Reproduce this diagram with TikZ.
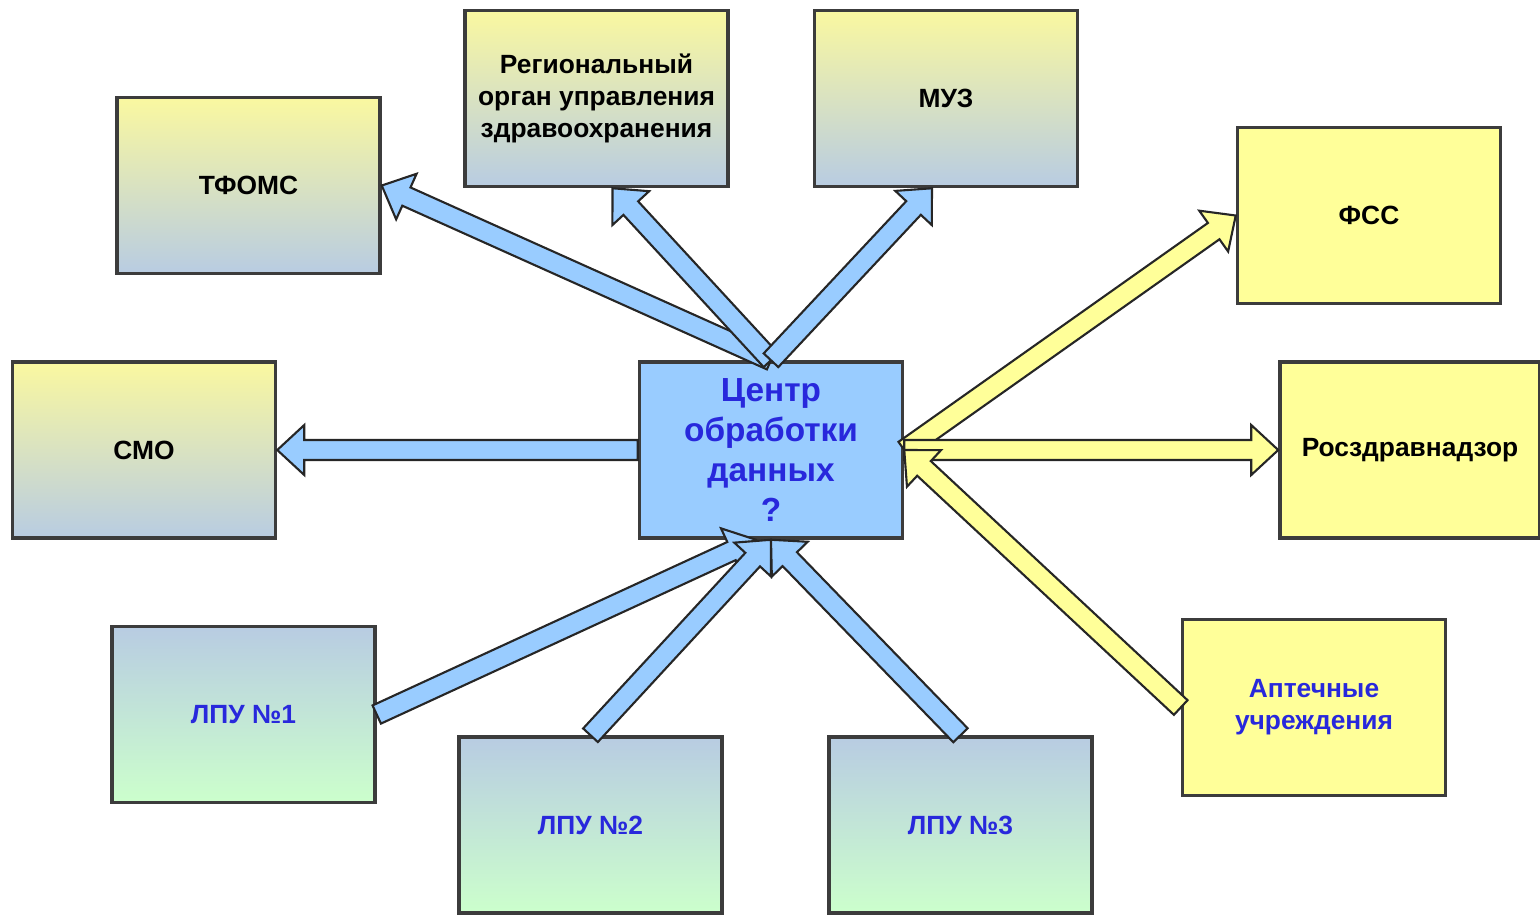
\documentclass[tikz,border=0pt]{standalone}
\usepackage{fontspec}
\setmainfont{Liberation Sans}
\usetikzlibrary{calc}

\definecolor{topyellow}{RGB}{250,248,160}
\definecolor{boxyellow}{RGB}{255,255,153}
\definecolor{greyblue}{RGB}{184,204,226}
\definecolor{palegreen}{RGB}{204,255,204}
\definecolor{centreblue}{RGB}{153,204,255}
\definecolor{textblue}{RGB}{40,40,220}
\definecolor{edgegrey}{RGB}{60,60,60}

% fat hollow arrow: from, to, fill colour
\newcommand{\fatarrow}[3]{%
  \coordinate (h) at ($(#2)!0.27cm!(#1)$);
  \filldraw[fill=#3,draw=black!85,line width=0.6pt,line join=miter]
    ($(#1)!0.1cm!90:(#2)$) -- ($(h)!0.1cm!90:(#2)$) -- ($(h)!0.25cm!90:(#2)$)
    -- (#2) -- ($(h)!0.25cm!-90:(#2)$) -- ($(h)!0.1cm!-90:(#2)$)
    -- ($(#1)!0.1cm!-90:(#2)$) -- cycle;}

\begin{document}
\begin{tikzpicture}[
    box/.style={draw=edgegrey,line width=1pt,minimum width=2.63cm,minimum height=1.76cm,
      inner sep=0pt,align=center,font=\fontsize{7.5}{9.1}\selectfont\bfseries},
    upper/.style={box,top color=topyellow,bottom color=greyblue},
    lower/.style={box,top color=greyblue,bottom color=palegreen,text=textblue},
    plain/.style={box,fill=boxyellow}]
  \useasboundingbox (0,0) rectangle (15.4,-9.14);

  \node[upper] (tfoms) at (2.485,-1.855) {ТФОМС};
  \node[upper] (reg) at (5.965,-0.985) {Региональный\\орган управления\\здравоохранения};
  \node[upper] (muz) at (9.46,-0.985) {МУЗ};
  \node[upper] (smo) at (1.44,-4.5) {СМО};
  \node[box,fill=centreblue,text=textblue,font=\fontsize{9.5}{11.4}\selectfont\bfseries]
    (centre) at (7.71,-4.5) {Центр\\обработки\\данных\\?};
  \node[plain] (fss) at (13.69,-2.155) {ФСС};
  \node[plain,minimum width=2.6cm] (ros) at (14.10,-4.5) {Росздравнадзор};
  \node[plain,text=textblue] (apt) at (13.14,-7.075) {Аптечные\\учреждения};
  \node[lower] (lpu1) at (2.435,-7.145) {ЛПУ №1};
  \node[lower] (lpu2) at (5.905,-8.25) {ЛПУ №2};
  \node[lower] (lpu3) at (9.605,-8.25) {ЛПУ №3};

  \coordinate (regin) at ($(reg.south)+(0.16,0)$);
  \coordinate (muzin) at ($(muz.south)+(-0.14,0)$);
  \coordinate (lpuin) at ($(centre.south)+(-0.15,0)$);

  \fatarrow{centre.north}{tfoms.east}{centreblue}
  \fatarrow{centre.north}{regin}{centreblue}
  \fatarrow{centre.north}{muzin}{centreblue}
  \fatarrow{centre.west}{smo.east}{centreblue}
  \fatarrow{lpu1.east}{lpuin}{centreblue}
  \fatarrow{lpu2.north}{centre.south}{centreblue}
  \fatarrow{lpu3.north}{centre.south}{centreblue}
  \fatarrow{centre.east}{fss.west}{boxyellow}
  \fatarrow{centre.east}{ros.west}{boxyellow}
  \fatarrow{apt.west}{centre.east}{boxyellow}
\end{tikzpicture}
\end{document}
